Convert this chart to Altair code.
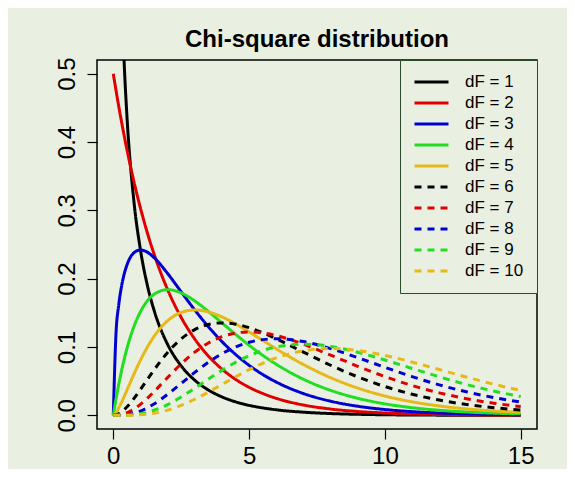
import altair as alt
import pandas as pd

x_vals = [0, 0.1, 0.2, 0.3, 0.4, 0.5, 0.75, 1, 1.25, 1.5, 2, 2.5, 3, 3.5, 4,
          4.5, 5, 5.5, 6, 7, 8, 9, 10, 11, 12, 13, 14, 15]

df_1 = [None, 1.2000, 0.8072, 0.6269, 0.5164, 0.4394, 0.3166, 0.2420, 0.1910, 0.1539,
        0.1038, 0.0723, 0.0514, 0.0371, 0.0270, 0.0198, 0.0146, 0.0109, 0.0081,
        0.0046, 0.0026, 0.0015, 0.00085, 0.00049, 0.00029, 0.00017, 0.0001, 0.00006]
df_2 = [0.5, 0.4756, 0.4524, 0.4304, 0.4094, 0.3894, 0.3436, 0.3033, 0.2676, 0.2362,
        0.1839, 0.1433, 0.1116, 0.0869, 0.0677, 0.0527, 0.0410, 0.0320, 0.0249,
        0.0151, 0.0092, 0.0056, 0.0034, 0.0020, 0.0012, 0.0008, 0.0005, 0.0003]
df_3 = [0, 0.1200, 0.1614, 0.1881, 0.2066, 0.2197, 0.2375, 0.2420, 0.2388, 0.2309,
        0.2076, 0.1807, 0.1542, 0.1297, 0.1080, 0.0892, 0.0732, 0.0598, 0.0487,
        0.0319, 0.0207, 0.0133, 0.0085, 0.0054, 0.0034, 0.0022, 0.0014, 0.0009]
df_4 = [0, 0.0238, 0.0452, 0.0646, 0.0819, 0.0974, 0.1289, 0.1516, 0.1673, 0.1771,
        0.1839, 0.1791, 0.1674, 0.1521, 0.1353, 0.1186, 0.1026, 0.0879, 0.0747,
        0.0528, 0.0366, 0.0250, 0.0168, 0.0112, 0.0074, 0.0049, 0.0032, 0.0021]
df_5 = [0, 0.0040, 0.0108, 0.0188, 0.0276, 0.0366, 0.0594, 0.0807, 0.0995, 0.1155,
        0.1384, 0.1506, 0.1542, 0.1513, 0.1440, 0.1338, 0.1220, 0.1097, 0.0973,
        0.0744, 0.0551, 0.0399, 0.0283, 0.0198, 0.0137, 0.0094, 0.0064, 0.0043]
df_6 = [0, 0.0006, 0.0023, 0.0048, 0.0082, 0.0122, 0.0242, 0.0379, 0.0523, 0.0664,
        0.0920, 0.1119, 0.1255, 0.1330, 0.1353, 0.1334, 0.1283, 0.1209, 0.1120,
        0.0925, 0.0733, 0.0563, 0.0421, 0.0309, 0.0223, 0.0159, 0.0112, 0.0078]
df_7 = [0, 0.0001, 0.0004, 0.0011, 0.0022, 0.0037, 0.0089, 0.0161, 0.0249, 0.0346,
        0.0554, 0.0753, 0.0925, 0.1059, 0.1152, 0.1204, 0.1220, 0.1206, 0.1168,
        0.1041, 0.0882, 0.0718, 0.0567, 0.0436, 0.0329, 0.0244, 0.0178, 0.0128]
df_8 = [0, 0.0000, 0.0001, 0.0002, 0.0005, 0.0010, 0.0030, 0.0063, 0.0109, 0.0166,
        0.0307, 0.0466, 0.0628, 0.0776, 0.0902, 0.1000, 0.1069, 0.1108, 0.1120,
        0.1079, 0.0977, 0.0844, 0.0702, 0.0567, 0.0446, 0.0344, 0.0261, 0.0194]
df_9 = [0, 0.0000, 0.0000, 0.0000, 0.0001, 0.0003, 0.0010, 0.0023, 0.0044, 0.0074,
        0.0158, 0.0269, 0.0397, 0.0530, 0.0658, 0.0774, 0.0872, 0.0948, 0.1001,
        0.1041, 0.1008, 0.0923, 0.0810, 0.0686, 0.0564, 0.0452, 0.0356, 0.0275]
df_10 = [0, 0.0000, 0.0000, 0.0000, 0.0000, 0.0001, 0.0003, 0.0008, 0.0017, 0.0031,
         0.0077, 0.0146, 0.0235, 0.0340, 0.0451, 0.0563, 0.0668, 0.0762, 0.0840,
         0.0944, 0.0977, 0.0949, 0.0877, 0.0779, 0.0670, 0.0560, 0.0456, 0.0364]

labels = ["dF = 1", "dF = 2", "dF = 3", "dF = 4", "dF = 5",
          "dF = 6", "dF = 7", "dF = 8", "dF = 9", "dF = 10"]
series = [df_1, df_2, df_3, df_4, df_5, df_6, df_7, df_8, df_9, df_10]
colors = ["#000000", "#e00000", "#0000d0", "#22dd22", "#e6b918",
          "#000000", "#e00000", "#0000d0", "#22dd22", "#e6b918"]
dashes = [[1, 0]] * 5 + [[7, 6]] * 5

rows = []
for order, (lab, vals) in enumerate(zip(labels, series)):
    for xv, yv in zip(x_vals, vals):
        if yv is not None:
            rows.append({"x": xv, "y": yv, "series": lab, "order": order})
data = pd.DataFrame(rows)

BG = "#e9f0e2"
FONT = "Liberation Sans"

chart = alt.Chart(data).mark_line(
    strokeWidth=3, interpolate="monotone", clip=True
).encode(
    x=alt.X("x:Q",
            scale=alt.Scale(domain=[-0.6, 15.6], nice=False, zero=False),
            axis=alt.Axis(values=[0, 5, 10, 15], title=None, grid=False, domain=False,
                          tickSize=10, tickColor="#000", tickWidth=1.2,
                          labelFontSize=24, labelColor="#000", labelPadding=5,
                          labelFont=FONT, labelFlush=False)),
    y=alt.Y("y:Q",
            scale=alt.Scale(domain=[-0.02, 0.52], nice=False, zero=False),
            axis=alt.Axis(values=[0, 0.1, 0.2, 0.3, 0.4, 0.5], format=".1f", title=None,
                          grid=False, domain=False, tickSize=10, tickColor="#000",
                          tickWidth=1.2, labelFontSize=24, labelColor="#000",
                          labelAngle=270, labelAlign="center", labelBaseline="bottom",
                          labelPadding=8, labelFont=FONT, labelFlush=False)),
    color=alt.Color("series:N", scale=alt.Scale(domain=labels, range=colors),
                    legend=alt.Legend(title=None)),
    strokeDash=alt.StrokeDash("series:N", scale=alt.Scale(domain=labels, range=dashes),
                              legend=alt.Legend(title=None)),
    order=alt.Order("order:Q"),
).properties(
    width=440,
    height=369,
    autosize=alt.AutoSizeParams(type="none"),
    padding={"left": 89, "top": 52, "right": 30, "bottom": 40},
    background=BG,
    title=alt.TitleParams("Chi-square distribution", fontSize=24, fontWeight="bold",
                          font=FONT, color="#000", anchor="middle", offset=5),
).configure_view(
    stroke="#000", strokeWidth=1.5, fill=BG
).configure_legend(
    orient="top-right", offset=0, padding=13, strokeColor="#2c4a2c", fillColor=BG,
    labelFontSize=17, labelFont=FONT, labelColor="#000", symbolType="stroke",
    symbolSize=1156, symbolStrokeWidth=3, rowPadding=3, clipHeight=18, labelOffset=15
)

chart.save("out.html", embed_options={"renderer": "svg", "actions": False})
